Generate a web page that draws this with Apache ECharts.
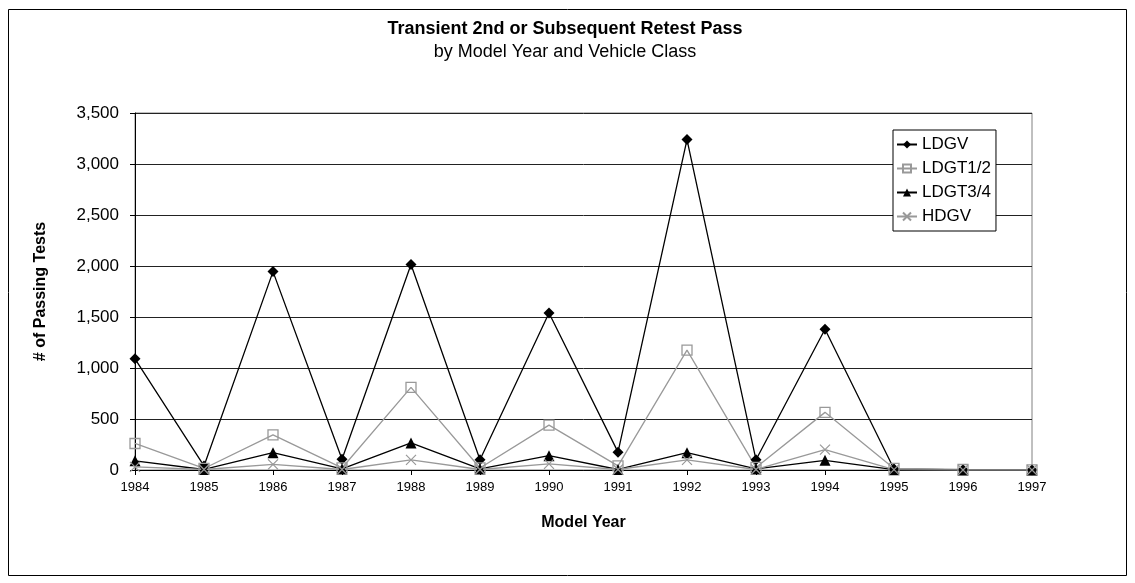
<!DOCTYPE html>
<html>
<head>
<meta charset="utf-8">
<script src="https://cdn.jsdelivr.net/npm/echarts@6/dist/echarts.min.js"></script>
<style>
  html, body { margin: 0; padding: 0; background: #fff; }
  #chart { width: 1135px; height: 583px; }
</style>
</head>
<body>
<div id="chart"></div>
<script>
// model years on the x axis
const years = ["1984", "1985", "1986", "1987", "1988", "1989", "1990",
  "1991", "1992", "1993", "1994", "1995", "1996", "1997"];

// passing tests per vehicle class
const ldgv = [1090, 40, 1945, 105, 2015, 100, 1540, 175, 3240, 100, 1380, 10, 2, 0];
const ldgt12 = [260, 15, 345, 20, 810, 20, 440, 40, 1175, 25, 565, 15, 5, 2];
const ldgt34 = [90, 5, 170, 10, 265, 10, 140, 5, 170, 10, 95, 3, 0, 0];
const hdgv = [30, 5, 55, 5, 100, 5, 60, 5, 100, 5, 200, 3, 0, 0];

const yTicks = [0, 500, 1000, 1500, 2000, 2500, 3000, 3500];

const font = "Liberation Sans, Arial, sans-serif";
const crossPath = "path://M0,0L10,10M10,0L0,10";

const chart = echarts.init(document.getElementById("chart"));

chart.setOption({
  animation: false,
  backgroundColor: "#fff",
  textStyle: { fontFamily: font, color: "#000" },
  graphic: [
    {
      type: "rect",
      shape: { x: 8.5, y: 9.5, width: 1118, height: 566 },
      style: { fill: "none", stroke: "#000", lineWidth: 1 },
      silent: true,
    },
  ],
  title: {
    text: "Transient 2nd or Subsequent Retest Pass",
    subtext: "by Model Year and Vehicle Class",
    left: 560,
    textAlign: "center",
    top: 15,
    itemGap: 5,
    textStyle: { fontFamily: font, fontSize: 18, fontWeight: "bold", color: "#000" },
    subtextStyle: { fontFamily: font, fontSize: 18, color: "#000" },
  },
  legend: {
    orient: "vertical",
    left: 893,
    top: 130,
    itemWidth: 20,
    itemHeight: 10,
    itemGap: 7,
    padding: [6, 5, 6, 3],
    borderColor: "#000",
    borderWidth: 1,
    backgroundColor: "#fff",
    textStyle: { fontFamily: font, fontSize: 17, color: "#000" },
    data: ["LDGV", "LDGT1/2", "LDGT3/4", "HDGV"],
  },
  grid: {
    left: 135,
    right: 103,
    top: 113,
    bottom: 113,
    show: true,
    borderColor: "#808080",
    borderWidth: 1,
  },
  xAxis: {
    type: "category",
    data: years,
    boundaryGap: false,
    name: "Model Year",
    nameLocation: "middle",
    nameGap: 45,
    nameTextStyle: { fontFamily: font, fontSize: 16, fontWeight: "bold", color: "#000" },
    axisLine: { lineStyle: { color: "#000" } },
    axisTick: { show: true, length: 5, lineStyle: { color: "#000" } },
    axisLabel: { fontFamily: font, fontSize: 13, color: "#000", margin: 11 },
    splitLine: { show: false },
  },
  yAxis: {
    type: "value",
    min: yTicks[0],
    max: yTicks[yTicks.length - 1],
    interval: 500,
    name: "# of Passing Tests",
    nameLocation: "middle",
    nameGap: 86,
    nameTextStyle: { fontFamily: font, fontSize: 16, fontWeight: "bold", color: "#000" },
    axisLine: { show: true, lineStyle: { color: "#000" } },
    axisTick: { show: true, length: 5, lineStyle: { color: "#000" } },
    axisLabel: {
      fontFamily: font,
      fontSize: 17,
      color: "#000",
      margin: 16,
      formatter: (v) => v.toLocaleString("en-US"),
    },
    splitLine: { show: true, lineStyle: { color: "#222", width: 1 } },
  },
  series: [
    {
      name: "LDGV",
      type: "line",
      data: ldgv,
      symbol: "diamond",
      symbolSize: 11,
      lineStyle: { color: "#000", width: 1.3 },
      itemStyle: { color: "#000" },
    },
    {
      name: "LDGT1/2",
      type: "line",
      data: ldgt12,
      symbol: "rect",
      symbolSize: 10,
      lineStyle: { color: "#999", width: 1.3 },
      itemStyle: { color: "rgba(0,0,0,0)", borderColor: "#999", borderWidth: 1.3 },
    },
    {
      name: "LDGT3/4",
      type: "line",
      data: ldgt34,
      symbol: "triangle",
      symbolSize: 11,
      lineStyle: { color: "#000", width: 1.3 },
      itemStyle: { color: "#000" },
    },
    {
      name: "HDGV",
      type: "line",
      data: hdgv,
      symbol: crossPath,
      symbolSize: 10,
      lineStyle: { color: "#999", width: 1.3 },
      itemStyle: { color: "#999", borderColor: "#999", borderWidth: 1.2 },
    },
  ],
});
</script>
</body>
</html>
